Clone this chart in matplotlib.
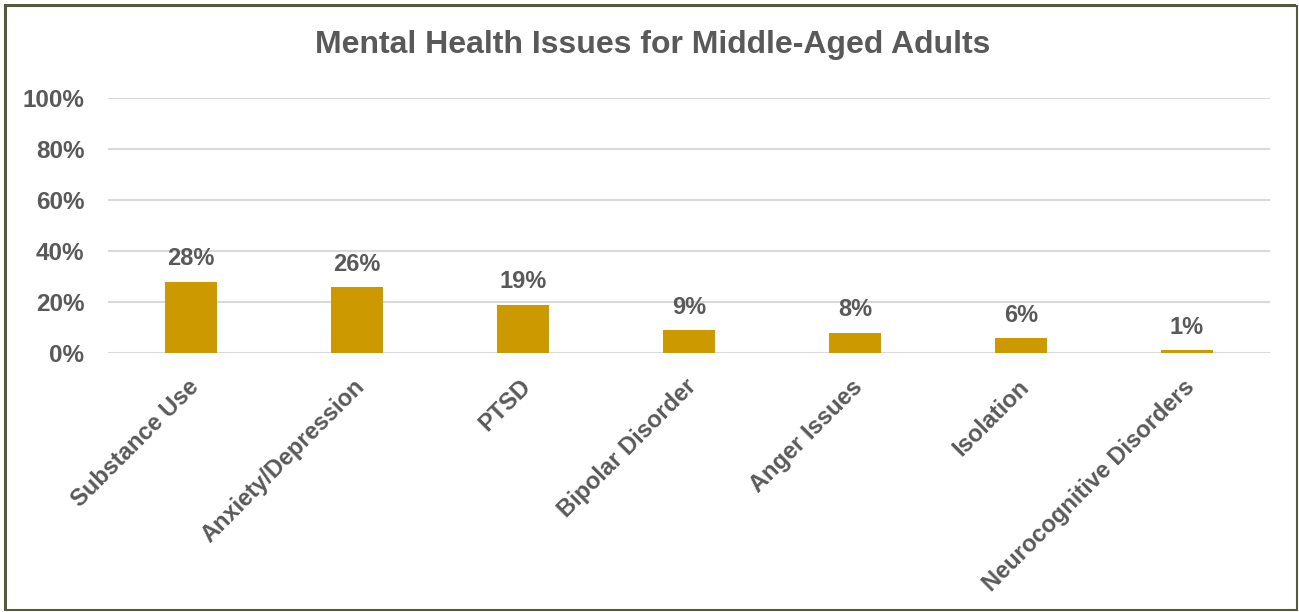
import matplotlib
matplotlib.use("Agg")
import matplotlib.pyplot as plt
from matplotlib.patches import Rectangle
import matplotlib.transforms as mtransforms

categories = ["Substance Use", "Anxiety/Depression", "PTSD", "Bipolar Disorder",
              "Anger Issues", "Isolation", "Neurocognitive Disorders"]
values = [28, 26, 19, 9, 8, 6, 1]
yticks = [0, 20, 40, 60, 80, 100]
ytick_labels = ["0%", "20%", "40%", "60%", "80%", "100%"]
title = "Mental Health Issues for Middle-Aged Adults"

plt.rcParams['font.family'] = ['Liberation Sans', 'DejaVu Sans']
text_color = "#595959"
bar_color = "#CC9900"
grid_color = "#D9D9D9"
border_color = "#575A3A"

fig = plt.figure(figsize=(12.99, 6.12), dpi=100)
ax = fig.add_axes([108/1299, 1-353/612, (1270-108)/1299, (353-98)/612])

x = list(range(len(categories)))
ax.bar(x, values, width=0.31, color=bar_color, zorder=3)
ax.set_xlim(-0.5, len(categories)-0.5)
ax.set_ylim(0, 100)
ax.set_yticks(yticks)
ax.set_yticklabels(ytick_labels, fontsize=17.5, fontweight='bold', color=text_color)
ax.tick_params(axis='y', length=0, pad=17)
ax.tick_params(axis='x', length=0, pad=8)
ax.set_xticks(x)
ax.set_xticklabels(categories, rotation=45, ha='right', rotation_mode='anchor',
                   fontsize=17, fontweight='bold', color=text_color)
offset = mtransforms.ScaledTranslation(-4/100, -11/100, fig.dpi_scale_trans)
for lbl in ax.get_xticklabels():
    lbl.set_transform(lbl.get_transform() + offset)
ax.yaxis.grid(True, color=grid_color, linewidth=1.5, zorder=0)
for s in ax.spines.values():
    s.set_visible(False)

for xi, v in zip(x, values):
    ax.annotate(f"{v}%", (xi, v), xytext=(0, 8), textcoords='offset points',
                ha='center', va='bottom', fontsize=17, fontweight='bold', color=text_color)

fig.text(653/1299, 1-45/612, title, ha='center', va='center', fontsize=23,
         fontweight='bold', color=text_color)

# figure border
fig.add_artist(Rectangle((5/1299, 2/612), 1292/1299, 604/612, transform=fig.transFigure,
                         fill=False, edgecolor=border_color, linewidth=1.5))
fig.add_artist(Rectangle((4/1299, 1-7/612), 1292/1299, 3/612, transform=fig.transFigure,
                         facecolor=border_color, edgecolor='none'))
fig.add_artist(Rectangle((4/1299, 2/612), 3/1299, 604/612, transform=fig.transFigure,
                         facecolor=border_color, edgecolor='none'))

fig.savefig("out.png", dpi=100)
